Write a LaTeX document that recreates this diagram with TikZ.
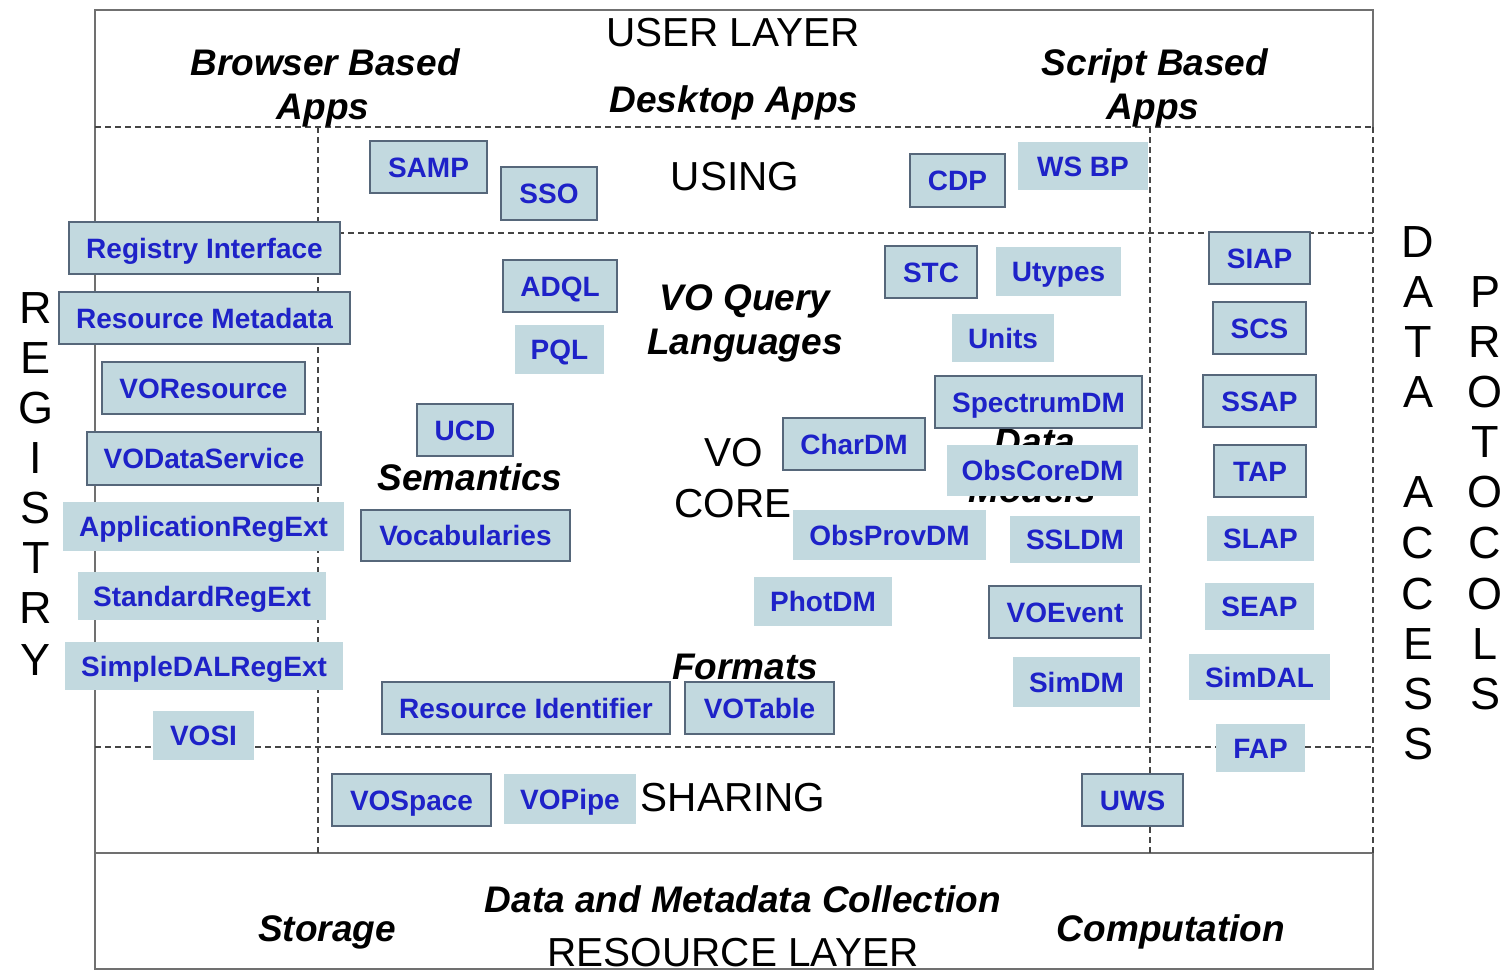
\documentclass[tikz,border=0pt]{standalone}
\usepackage{fontspec}
\setmainfont{Liberation Sans}
\definecolor{boxfill}{HTML}{C2D9DF}
\definecolor{boxline}{HTML}{56677A}
\definecolor{boxtext}{HTML}{1E22C8}
\definecolor{frame}{HTML}{707070}
\definecolor{gridc}{HTML}{454545}
\newcommand\vobx[7]{%
 \pgfmathsetmacro\vw{#5-#3}\pgfmathsetmacro\vh{#6-#4}%
 \pgfmathsetmacro\vcx{(#3+#5)/2}\pgfmathsetmacro\vcy{(#4+#6)/2}%
 \node[#1, minimum width=\vw pt, minimum height=\vh pt] (#2) at (\vcx,\vcy) {#7};}
\begin{document}
\begin{tikzpicture}[x=1pt,y=-1pt,
 vobox/.style={fill=boxfill, text=boxtext, font=\bfseries\fontsize{28}{30}\selectfont, inner sep=0pt, text height=20pt, text depth=0pt, anchor=center},
 bvobox/.style={vobox, draw=boxline, line width=1.5pt},
 cat/.style={font=\bfseries\itshape\fontsize{37}{40}\selectfont, anchor=base, inner sep=0pt},
 layer/.style={font=\fontsize{40.5}{44}\selectfont, anchor=base, inner sep=0pt},
 letter/.style={font=\fontsize{45}{48}\selectfont, inner sep=0pt},
 grid/.style={dash pattern=on 6pt off 4pt, line width=1.8pt, draw=gridc},
 solidframe/.style={draw=frame, line width=2pt}]
\useasboundingbox (0,0) rectangle (1512,972);
% frame
\draw[solidframe] (95,127) -- (95,10) -- (1373,10) -- (1373,127);
\draw[solidframe] (95,127) -- (95,969) -- (1373,969) -- (1373,853);
\draw[solidframe, line width=2.5pt] (95,853) -- (1373,853);
\draw[grid] (1373,127) -- (1373,853);
\draw[grid] (95,127) -- (1373,127);
\draw[grid] (318,127) -- (318,853);
\draw[grid] (1150,127) -- (1150,853);
\draw[grid] (318,233) -- (1373,233);
\draw[grid] (95,747) -- (1373,747);
% layer labels
\node[layer] (userlayer) at (733,46) {USER LAYER};
\node[layer] (using) at (735,190) {USING};
\node[layer] (vo) at (734,466) {VO};
\node[layer] (core) at (733,517) {CORE};
\node[layer] (sharing) at (733,811) {SHARING};
\node[layer] (reslayer) at (733,966) {RESOURCE LAYER};
% category labels
\node[cat] (browser1) at (325,75) {Browser Based};
\node[cat] (browser2) at (323,119) {Apps};
\node[cat] (desktop) at (734,112) {Desktop Apps};
\node[cat] (script1) at (1155,75) {Script Based};
\node[cat] (script2) at (1153,119) {Apps};
\node[cat] (voq1) at (745,310) {VO Query};
\node[cat] (voq2) at (745,354) {Languages};
\node[cat] (semantics) at (470,490) {Semantics};
\node[cat] (dm1) at (1035,454) {Data};
\node[cat] (dm2) at (1032,502) {Models};
\node[cat] (formats) at (745,679) {Formats};
\node[cat] (datacoll) at (743,912) {Data and Metadata Collection};
\node[cat] (storage) at (327,941) {Storage};
\node[cat] (computation) at (1171,941) {Computation};
% vertical letters
\foreach \l/\y [count=\i] in {R/308,E/358,G/408,I/458,S/508,T/558,R/608,Y/660}
  \node[letter] (reg\i) at (36,\y) {\l};
\foreach \l/\y [count=\i] in {D/242,A/292,T/342,A/392,A/492,C/543,C/594,E/644,S/694,S/744}
  \node[letter] (da\i) at (1418,\y) {\l};
\foreach \l/\y [count=\i] in {P/292,R/342,O/392,T/442,O/492,C/543,O/594,L/644,S/694}
  \node[letter] (pr\i) at (1485,\y) {\l};
% using
\vobx{bvobox}{samp}{370}{141}{487}{193}{SAMP}
\vobx{bvobox}{sso}{501}{167}{597}{220}{SSO}
\vobx{bvobox}{cdp}{910}{154}{1005}{207}{CDP}
\vobx{vobox}{wsbp}{1018}{142}{1148}{190}{WS BP}
% registry
\vobx{bvobox}{regint}{69}{222}{340}{274}{Registry Interface}
\vobx{bvobox}{resmeta}{59}{292}{350}{344}{Resource Metadata}
\vobx{bvobox}{vores}{102}{362}{305}{414}{VOResource}
\vobx{bvobox}{vods}{87}{432}{321}{485}{VODataService}
\vobx{vobox}{appreg}{63}{502}{344}{551}{ApplicationRegExt}
\vobx{vobox}{stdreg}{78}{572}{326}{620}{StandardRegExt}
\vobx{vobox}{sdalreg}{65}{642}{343}{690}{SimpleDALRegExt}
\vobx{vobox}{vosi}{153}{711}{254}{760}{VOSI}
% core
\vobx{bvobox}{adql}{503}{260}{617}{312}{ADQL}
\vobx{vobox}{pql}{515}{325}{604}{374}{PQL}
\vobx{bvobox}{ucd}{417}{404}{513}{456}{UCD}
\vobx{bvobox}{vocab}{361}{510}{570}{561}{Vocabularies}
\vobx{bvobox}{stc}{885}{246}{977}{298}{STC}
\vobx{vobox}{utypes}{996}{247}{1121}{296}{Utypes}
\vobx{vobox}{units}{952}{314}{1054}{362}{Units}
\vobx{bvobox}{spectrum}{935}{376}{1142}{428}{SpectrumDM}
\vobx{bvobox}{chardm}{783}{418}{925}{470}{CharDM}
\vobx{vobox}{obscore}{947}{445}{1138}{496}{ObsCoreDM}
\vobx{vobox}{obsprov}{793}{510}{986}{560}{ObsProvDM}
\vobx{vobox}{ssldm}{1010}{516}{1140}{563}{SSLDM}
\vobx{vobox}{photdm}{754}{577}{892}{626}{PhotDM}
\vobx{bvobox}{voevent}{989}{586}{1141}{638}{VOEvent}
\vobx{vobox}{simdm}{1013}{657}{1140}{707}{SimDM}
\vobx{bvobox}{resid}{382}{682}{670}{734}{Resource Identifier}
\vobx{bvobox}{votable}{685}{682}{834}{734}{VOTable}
% data access
\vobx{bvobox}{siap}{1209}{232}{1310}{284}{SIAP}
\vobx{bvobox}{scs}{1213}{302}{1306}{354}{SCS}
\vobx{bvobox}{ssap}{1203}{375}{1316}{427}{SSAP}
\vobx{bvobox}{tap}{1214}{445}{1306}{497}{TAP}
\vobx{vobox}{slap}{1207}{516}{1314}{561}{SLAP}
\vobx{vobox}{seap}{1205}{583}{1314}{630}{SEAP}
\vobx{vobox}{simdal}{1189}{654}{1330}{700}{SimDAL}
\vobx{vobox}{fap}{1216}{724}{1305}{772}{FAP}
% sharing
\vobx{bvobox}{vospace}{332}{774}{491}{826}{VOSpace}
\vobx{vobox}{vopipe}{504}{774}{636}{824}{VOPipe}
\vobx{bvobox}{uws}{1082}{774}{1183}{826}{UWS}
\end{tikzpicture}
\end{document}
